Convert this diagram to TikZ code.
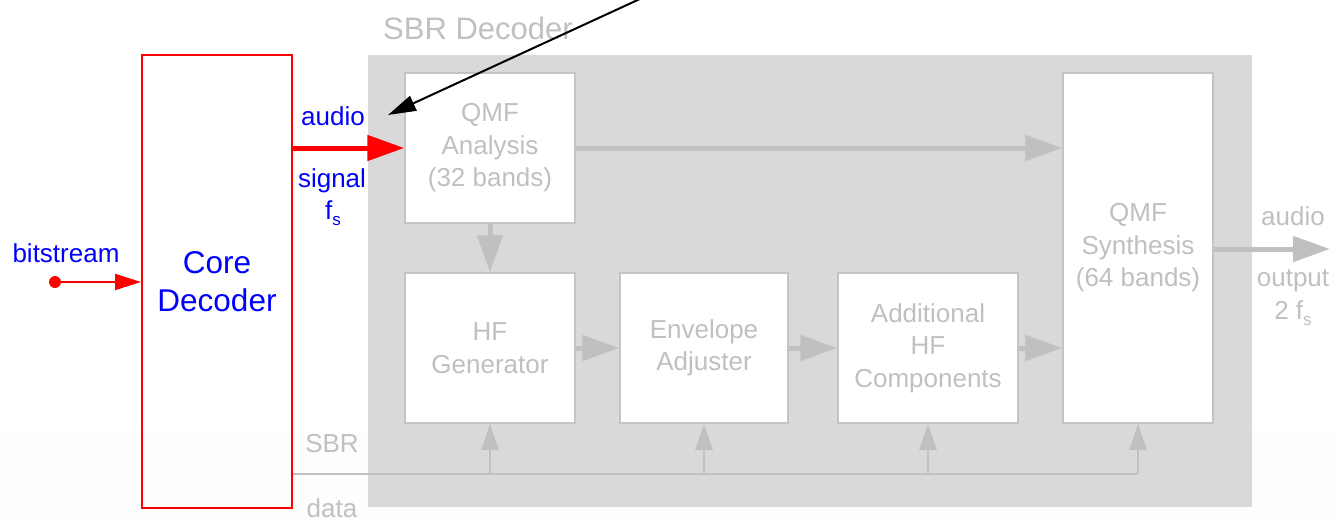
\documentclass[tikz,border=0pt]{standalone}
\usepackage{fontspec}
\setmainfont{Liberation Sans}
\usetikzlibrary{arrows.meta}
\definecolor{bggray}{HTML}{D9D9D9}
\definecolor{lgray}{HTML}{C0C0C0}
\definecolor{bgray}{HTML}{C4C4C4}
\definecolor{faint}{HTML}{FDFDFD}
\definecolor{pblue}{HTML}{0000FF}
\definecolor{pred}{HTML}{FF0000}
\tikzset{
  blk/.style={draw=bgray, line width=1.5pt, fill=white, align=center, text=lgray,
    font=\fontsize{26}{32.5}\selectfont, inner sep=0pt},
  thickg/.style={draw=lgray, line width=5pt, -{Triangle[length=37pt,width=25pt]}},
  thing/.style={draw=lgray, line width=2pt, -{Triangle[length=26pt,width=17pt]}},
  lbl/.style={font=\fontsize{26}{30}\selectfont, inner sep=0pt},
}
\newcommand{\subs}[1]{\raisebox{-6pt}{\fontsize{17}{17}\selectfont #1}}
\begin{document}
\begin{tikzpicture}[x=1pt,y=-1pt]
\useasboundingbox (0,0) rectangle (1335,522);
\fill[faint] (0,430) rectangle (1335,520);
% SBR decoder background
\fill[bggray] (368,55) rectangle (1252,507);
\node[lbl, anchor=west, text=lgray, font=\fontsize{31}{36}\selectfont] (sbrt) at (383,28) {SBR Decoder};
% Core decoder
\node[draw=pred, line width=2pt, minimum width=150pt, minimum height=453pt, inner sep=0pt,
  text=pblue, align=center, font=\fontsize{31.5}{38}\selectfont] (core) at (217,281.5) {Core\\Decoder};
% blocks
\node[blk, minimum width=170pt, minimum height=150pt] (qa) at (490,148) {QMF\\Analysis\\(32 bands)};
\node[blk, minimum width=170pt, minimum height=150pt] (hf) at (490,348) {HF\\Generator};
\node[blk, minimum width=168pt, minimum height=150pt] (env) at (704,348) {Envelope\\Adjuster};
\node[blk, minimum width=180pt, minimum height=150pt] (add) at (928,348) {Additional\\HF\\Components};
\node[blk, minimum width=150pt, minimum height=350pt] (qs) at (1138,248) {QMF\\Synthesis\\(64 bands)};
% bitstream
\coordinate (bs) at (55,282);
\fill[pred] (bs) circle (6pt);
\draw[pred, line width=2pt, -{Triangle[length=26pt,width=16pt]}] (bs) -- (bs -| core.west);
\node[lbl, text=pblue] (bst) at (66,253) {bitstream};
% audio signal
\draw[pred, line width=5pt, -{Triangle[length=37pt,width=25pt]}] (core.east |- qa.west) -- (qa.west);
\node[lbl, text=pblue] (au) at (333,116) {audio};
\node[lbl, text=pblue] (sg) at (332,181) {signal};
\node[lbl, text=pblue] (fs) at (333,213) {f\subs{s}};
% gray arrows
\draw[thickg] (qa.east) -- (qa.east -| qs.west);
\draw[thickg] (qa.south) -- (hf.north);
\draw[thickg] (hf.east) -- (env.west);
\draw[thickg] (env.east) -- (add.west);
\draw[thickg] (add.east) -- (add.east -| qs.west);
\coordinate (out) at (1330,249);
\draw[thickg] (qs.east |- out) -- (out);
\node[lbl, text=lgray] (o1) at (1293,216) {audio};
\node[lbl, text=lgray] (o2) at (1293,281) {output};
\node[lbl, text=lgray] (o3) at (1293,313) {2 f\subs{s}};
% SBR data bus
\coordinate (bus) at (1138,474);
\draw[lgray, line width=2pt] (core.east |- bus) -- (bus);
\draw[thing] (hf.south |- bus) -- (hf.south);
\draw[thing] (env.south |- bus) -- (env.south);
\draw[thing] (add.south |- bus) -- (add.south);
\draw[thing] (bus) -- (qs.south);
\node[lbl, text=lgray] (sbr) at (332,444) {SBR};
\node[lbl, text=lgray] (dat) at (332,508) {data};
% black pointer arrow
\coordinate (ptr) at (642,-2);
\coordinate (ptrtip) at (388,115);
\draw[black, line width=2pt, -{Triangle[length=28pt,width=16pt]}] (ptr) -- (ptrtip);
\end{tikzpicture}
\end{document}
